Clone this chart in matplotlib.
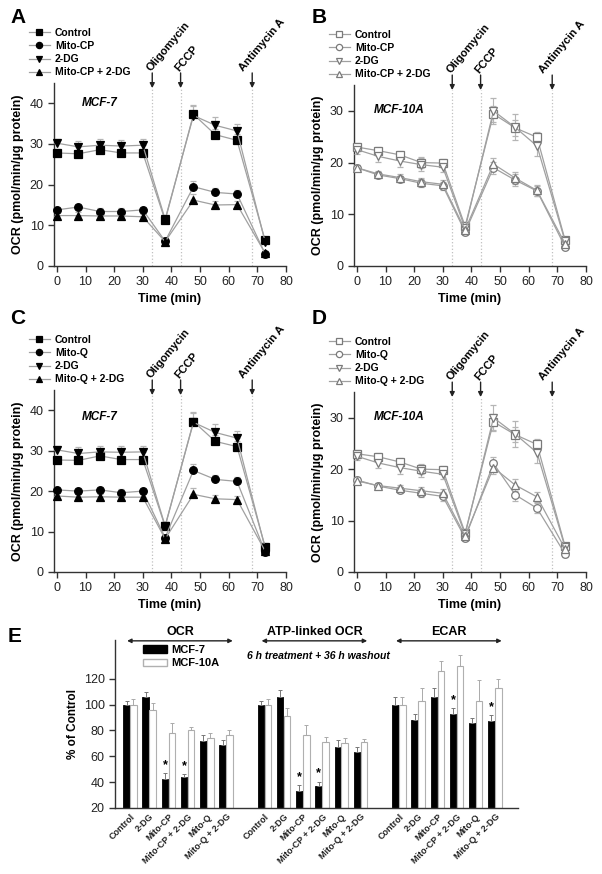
import numpy as np
import matplotlib
matplotlib.use("Agg")
import matplotlib.pyplot as plt
from matplotlib.lines import Line2D
from matplotlib.patches import Patch

plt.rcParams["font.family"] = ["Liberation Sans", "DejaVu Sans"]
plt.rcParams["font.weight"] = "bold"
plt.rcParams["axes.labelweight"] = "bold"

W, H = 602, 874

# ---- time course data ----
t = [0, 7.5, 15, 22.5, 30, 37.8, 47.7, 55.3, 62.9, 72.7]

# A: MCF-7, Mito-CP
a_ctrl = [27.8, 27.6, 28.6, 27.8, 27.8, 11.2, 37.3, 32.3, 30.9, 6.3]
a_drug = [13.8, 14.5, 13.4, 13.4, 13.8, 6.1, 19.5, 18.1, 17.7, 3.0]
a_dg = [30.2, 29.3, 29.7, 29.5, 29.7, 11.5, 37.0, 34.6, 33.2, 6.0]
a_combo = [12.4, 12.4, 12.3, 12.3, 12.1, 6.0, 16.2, 15.0, 15.1, 3.2]

# B: MCF-10A, Mito-CP
b_ctrl = [23.0, 22.3, 21.5, 20.0, 19.9, 7.7, 29.4, 26.7, 24.9, 5.0]
b_drug = [19.0, 17.6, 16.9, 16.0, 15.5, 6.6, 19.0, 16.6, 14.5, 3.7]
b_dg = [22.5, 21.2, 20.3, 19.6, 19.1, 7.3, 30.0, 26.8, 23.2, 4.8]
b_combo = [19.0, 17.8, 17.1, 16.3, 15.8, 7.0, 19.7, 17.0, 14.6, 4.3]

# C: MCF-7, Mito-Q
c_ctrl = [27.7, 27.6, 28.7, 27.8, 27.8, 11.3, 37.2, 32.3, 31.0, 6.3]
c_drug = [20.3, 20.0, 20.3, 19.6, 20.0, 8.5, 25.1, 22.9, 22.4, 5.0]
c_dg = [30.2, 29.3, 29.7, 29.6, 29.7, 11.4, 37.0, 34.5, 33.1, 6.0]
c_combo = [18.8, 18.5, 18.6, 18.5, 18.5, 8.2, 19.2, 18.1, 17.9, 5.2]

# D: MCF-10A, Mito-Q
d_ctrl = [23.0, 22.4, 21.4, 20.0, 19.9, 7.6, 29.2, 26.7, 24.8, 5.0]
d_drug = [17.9, 16.7, 15.9, 15.3, 14.7, 6.6, 21.1, 15.0, 12.4, 3.5]
d_dg = [22.5, 21.2, 20.3, 19.6, 19.0, 7.3, 30.0, 26.8, 23.2, 4.8]
d_combo = [17.7, 16.8, 16.3, 15.8, 15.3, 7.0, 20.3, 16.9, 14.6, 4.5]

# error bars (approximate)
err7_ctrl = [1.0, 1.0, 1.0, 1.0, 1.0, 0.8, 2.0, 1.5, 1.5, 0.8]
err7_dg = [1.0, 1.5, 1.5, 1.5, 1.5, 0.8, 2.5, 2.0, 1.8, 0.8]
err7_drug = [0.8, 0.8, 0.8, 0.8, 0.8, 0.6, 1.5, 1.0, 1.0, 0.5]
err10_ctrl = [0.8, 0.8, 0.8, 1.0, 0.8, 0.8, 1.5, 1.5, 1.0, 0.5]
err10_dg = [0.8, 1.0, 1.2, 1.2, 1.0, 0.8, 2.5, 2.5, 2.0, 0.5]
err10_drug = [0.6, 0.6, 0.6, 0.8, 0.8, 0.6, 1.2, 1.2, 1.0, 0.5]

injections = [33.3, 43.2, 68.2]
inj_labels = ["Oligomycin", "FCCP", "Antimycin A"]
inj_dx = [-1.2, -1.2, -4.0]

# ---- bar data (panel E) ----
treatments = ["Control", "2-DG", "Mito-CP", "Mito-CP + 2-DG", "Mito-Q", "Mito-Q + 2-DG"]
ocr_mcf7 = [100, 106, 42.5, 44, 71.5, 69]
ocr_mcf7_err = [2.5, 4, 4.5, 2, 5, 4]
ocr_10a = [100, 95.5, 78, 80, 74, 76.5]
ocr_10a_err = [4.5, 5.5, 8, 3, 4, 3.5]
atp_mcf7 = [100, 106, 33.5, 37, 67, 63]
atp_mcf7_err = [2.5, 5, 4.5, 3.5, 6, 4.5]
atp_10a = [100, 91, 76.5, 71, 70, 71]
atp_10a_err = [4.5, 6.5, 8, 4, 4, 2.5]
ecar_mcf7 = [100, 88, 106, 93, 85.5, 87.5]
ecar_mcf7_err = [6, 5, 7, 4, 4.5, 4.5]
ecar_10a = [100, 103, 126, 130, 103, 113]
ecar_10a_err = [6, 10, 8, 8.5, 16, 7]
ocr_sig = [0, 0, 1, 1, 0, 0]
atp_sig = [0, 0, 1, 1, 0, 0]
ecar_sig = [0, 0, 0, 1, 0, 1]

fig = plt.figure(figsize=(W / 100, H / 100), dpi=100)


def px_axes(l, t_, r, b):
    return fig.add_axes([l / W, 1 - b / H, (r - l) / W, (b - t_) / H])


def style_axes(ax):
    for s in ["top", "right"]:
        ax.spines[s].set_visible(False)
    for s in ["left", "bottom"]:
        ax.spines[s].set_color("#333333")
        ax.spines[s].set_linewidth(1.0)
    ax.tick_params(direction="out", length=4, width=1, color="#333333",
                   labelsize=9, labelcolor="#222222")
    for lbl in ax.get_xticklabels() + ax.get_yticklabels():
        lbl.set_fontweight("normal")


def time_panel(ax, series, names, errs, filled, ymax, yticks, cell, cell_y, upper_only):
    markers = ["s", "o", "v", "^"]
    handles = []
    for vals, err, m, name in zip(series, errs, markers, names):
        vals = np.array(vals)
        err = np.array(err)
        if filled:
            mfc, mec = "black", "black"
        else:
            mfc, mec = "white", "#7a7a7a"
        yerr = [np.zeros_like(err), err] if upper_only else err
        ax.errorbar(t, vals, yerr=yerr, color="#a0a0a0", lw=0.9, marker=m, ms=5.5,
                    mfc=mfc, mec=mec, mew=0.9, ecolor="#b5b5b5", elinewidth=0.8,
                    capsize=2, capthick=0.8, clip_on=False, zorder=3)
        handles.append(Line2D([], [], color="#a0a0a0", lw=0.9, marker=m, ms=4.5,
                              mfc=mfc, mec=mec, mew=0.9))
    ax.set_xlim(-1, 80)
    ax.set_ylim(0, ymax)
    ax.set_xticks(range(0, 81, 10))
    ax.set_yticks(yticks)
    style_axes(ax)
    ax.set_xlabel("Time (min)", fontsize=9, labelpad=3)
    ax.set_ylabel("OCR (pmol/min/\u00b5g protein)", fontsize=9, labelpad=4)
    tr = ax.get_xaxis_transform()
    for x, lab, dx in zip(injections, inj_labels, inj_dx):
        ax.plot([x, x], [0, 0.975], transform=tr, color="#c0c0c0", ls=":", lw=0.9, zorder=1)
        ax.annotate("", xy=(x, 0.972), xytext=(x, 1.055), xycoords=tr, textcoords=tr,
                    arrowprops=dict(arrowstyle="-|>", color="#222222", lw=1.0,
                                    mutation_scale=7, shrinkA=0, shrinkB=0),
                    annotation_clip=False)
        ax.text(x + dx, 1.072, lab, transform=tr, rotation=50, rotation_mode="anchor",
                ha="left", va="center", fontsize=8, clip_on=False)
    ax.text(14.8, cell_y, cell, transform=tr, ha="center", va="center",
            fontsize=8.5, style="italic")
    lx = ax.get_position().x0 - 25 / W
    ly = ax.get_position().y1 + 55 / H
    ax.legend(handles, names, loc="upper left", bbox_to_anchor=(lx, ly),
              bbox_transform=fig.transFigure, frameon=False, fontsize=7.5,
              handlelength=2.0, handletextpad=0.5, labelspacing=0.3,
              borderaxespad=0, borderpad=0)


axA = px_axes(54, 83, 286, 266)
axB = px_axes(354, 85, 586, 266)
axC = px_axes(54, 390, 286, 572)
axD = px_axes(354, 392, 586, 572)

time_panel(axA, [a_ctrl, a_drug, a_dg, a_combo],
           ["Control", "Mito-CP", "2-DG", "Mito-CP + 2-DG"],
           [err7_ctrl, err7_drug, err7_dg, err7_drug], True, 45, [0, 10, 20, 30, 40],
           "MCF-7", 0.89, True)
time_panel(axB, [b_ctrl, b_drug, b_dg, b_combo],
           ["Control", "Mito-CP", "2-DG", "Mito-CP + 2-DG"],
           [err10_ctrl, err10_drug, err10_dg, err10_drug], False, 35, [0, 10, 20, 30],
           "MCF-10A", 0.86, False)
time_panel(axC, [c_ctrl, c_drug, c_dg, c_combo],
           ["Control", "Mito-Q", "2-DG", "Mito-Q + 2-DG"],
           [err7_ctrl, err7_drug, err7_dg, err7_drug], True, 45, [0, 10, 20, 30, 40],
           "MCF-7", 0.85, True)
time_panel(axD, [d_ctrl, d_drug, d_dg, d_combo],
           ["Control", "Mito-Q", "2-DG", "Mito-Q + 2-DG"],
           [err10_ctrl, err10_drug, err10_dg, err10_drug], False, 35, [0, 10, 20, 30],
           "MCF-10A", 0.86, False)

# ---- panel E ----
axE = px_axes(115, 640, 518, 808)
groups = [
    (ocr_mcf7, ocr_mcf7_err, ocr_10a, ocr_10a_err, ocr_sig, "OCR"),
    (atp_mcf7, atp_mcf7_err, atp_10a, atp_10a_err, atp_sig, "ATP-linked OCR"),
    (ecar_mcf7, ecar_mcf7_err, ecar_10a, ecar_10a_err, ecar_sig, "ECAR"),
]
bw = 0.34
off = 0.18
tick_pos = []
tick_lab = []
trE = axE.get_xaxis_transform()
for g, (m7, m7e, m10, m10e, sig, title) in enumerate(groups):
    x = np.arange(6) + 7 * g
    axE.bar(x - off, np.array(m7) - 20, bw, bottom=20, color="black", edgecolor="black", lw=0.6,
            yerr=[np.zeros(6), m7e], error_kw=dict(ecolor="#777777", elinewidth=0.7,
                                                     capsize=1.5, capthick=0.7))
    axE.bar(x + off, np.array(m10) - 20, bw, bottom=20, color="white", edgecolor="#b0b0b0", lw=0.8,
            yerr=[np.zeros(6), m10e], error_kw=dict(ecolor="#aaaaaa", elinewidth=0.7,
                                                      capsize=1.5, capthick=0.7))
    for xi, v, e, s in zip(x, m7, m7e, sig):
        if s:
            axE.text(xi - off, v + e + 1.5, "*", ha="center", va="bottom", fontsize=9)
    tick_pos.extend(x)
    tick_lab.extend(treatments)
    x0, x1 = x[0] - 0.15, x[-1] + 0.35
    axE.annotate("", xy=(x0, 0.995), xytext=(x1, 0.995), xycoords=trE, textcoords=trE,
                 arrowprops=dict(arrowstyle="<|-|>", color="#222222", lw=1.0,
                                 mutation_scale=6, shrinkA=0, shrinkB=0),
                 annotation_clip=False)
    axE.text((x0 + x1) / 2, 1.01, title, transform=trE, ha="center", va="bottom",
             fontsize=9)

axE.set_xlim(-0.78, 20.2)
axE.set_ylim(20, 150)
axE.set_yticks([20, 40, 60, 80, 100, 120])
axE.set_xticks(tick_pos)
axE.set_xticklabels(tick_lab, rotation=45, ha="right", rotation_mode="anchor", fontsize=6.5)
style_axes(axE)
axE.tick_params(axis="x", length=0, pad=3, labelsize=6.5)
for lbl in axE.get_xticklabels():
    lbl.set_fontweight("bold")
axE.set_ylabel("% of Control", fontsize=8.5, labelpad=3)
axE.text(0.506, 0.905, "6 h treatment + 36 h washout", transform=axE.transAxes,
         ha="center", va="center", fontsize=7.5, style="italic")
axE.legend([Patch(facecolor="black", edgecolor="black"),
            Patch(facecolor="white", edgecolor="#b0b0b0")],
           ["MCF-7", "MCF-10A"], loc="upper left",
           bbox_to_anchor=(143 / W, 1 - 645 / H), bbox_transform=fig.transFigure,
           frameon=False, fontsize=8, handlelength=2.2, handleheight=0.7,
           handletextpad=0.3, labelspacing=0.3, borderaxespad=0, borderpad=0)

# panel letters
for lab, (px, py) in zip("ABCDE", [(10, 8), (312, 8), (10, 309), (312, 309), (8, 627)]):
    fig.text(px / W, 1 - py / H, lab, fontsize=15, ha="left", va="top")

fig.savefig("out.png", dpi=100)
